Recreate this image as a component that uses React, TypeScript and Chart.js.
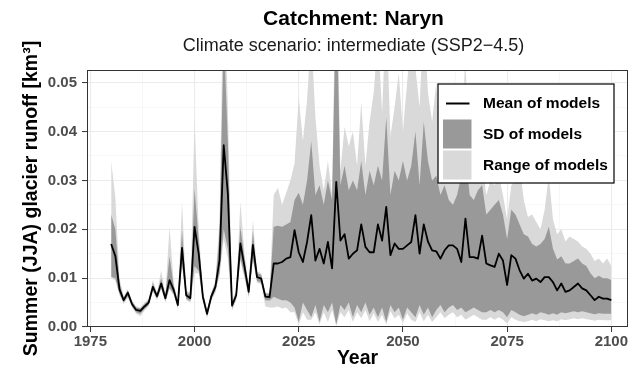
import React, { useEffect, useRef } from 'react';
import { Chart, registerables } from 'chart.js';

Chart.register(...registerables);

const FIRST_YEAR = 1980;
const LAST_YEAR = 2100;
const years: number[] = Array.from({ length: LAST_YEAR - FIRST_YEAR + 1 }, (_, i) => FIRST_YEAR + i);

const titleText = 'Catchment: Naryn';
const subtitleText = 'Climate scenario: intermediate (SSP2\u22124.5)';
const yTitle = 'Summer (JJA) glacier runoff [km\u00B3]';
const xTitle = 'Year';
const legendLabels = ['Mean of models', 'SD of models', 'Range of models'];

const xTickValues = [1975, 1987.5, 2000, 2012.5, 2025, 2037.5, 2050, 2062.5, 2075, 2087.5, 2100];
const xTickLabels = ['1975', '', '2000', '', '2025', '', '2050', '', '2075', '', '2100'];
const yTickValues = [0, 0.005, 0.01, 0.015, 0.02, 0.025, 0.03, 0.035, 0.04, 0.045, 0.05];
const yTickLabels = ['0.00', '', '0.01', '', '0.02', '', '0.03', '', '0.04', '', '0.05'];

// 1980 ... 2100
const meanOfModels = [
  0.0170, 0.0145, 0.0077, 0.0055, 0.0070, 0.0047, 0.0035, 0.0033, 0.0042, 0.0050,
  0.0082, 0.0063, 0.0089, 0.0059, 0.0096, 0.0076, 0.0045, 0.0162, 0.0065, 0.0059,
  0.0205, 0.0150, 0.0062, 0.0027, 0.0062, 0.0082, 0.0137, 0.0372, 0.0273, 0.0044,
  0.0065, 0.0171, 0.0123, 0.0072, 0.0168, 0.0102, 0.0099, 0.0062, 0.0061, 0.0130,
  0.0130, 0.0133, 0.0140, 0.0143, 0.0198, 0.0153, 0.0133, 0.0174, 0.0229, 0.0136,
  0.0160, 0.0130, 0.0174, 0.0120, 0.0297, 0.0177, 0.0190, 0.0140, 0.0150, 0.0157,
  0.0210, 0.0164, 0.0153, 0.0153, 0.0210, 0.0177, 0.0246, 0.0147, 0.0171, 0.0160,
  0.0160, 0.0167, 0.0174, 0.0229, 0.0150, 0.0210, 0.0175, 0.0157, 0.0155, 0.0140,
  0.0157, 0.0167, 0.0167, 0.0160, 0.0133, 0.0222, 0.0143, 0.0143, 0.0140, 0.0187,
  0.0130, 0.0126, 0.0123, 0.0150, 0.0136, 0.0086, 0.0147, 0.0140, 0.0116, 0.0099,
  0.0109, 0.0095, 0.0099, 0.0092, 0.0102, 0.0102, 0.0092, 0.0075, 0.0089, 0.0072,
  0.0075, 0.0082, 0.0089, 0.0079, 0.0075, 0.0065, 0.0055, 0.0062, 0.0058, 0.0058,
  0.0055,
];

const sdLow = [
  0.0103, 0.0100, 0.0068, 0.0050, 0.0063, 0.0042, 0.0030, 0.0027, 0.0037, 0.0045,
  0.0075, 0.0058, 0.0080, 0.0053, 0.0080, 0.0068, 0.0040, 0.0130, 0.0058, 0.0053,
  0.0125, 0.0115, 0.0055, 0.0022, 0.0056, 0.0074, 0.0110, 0.0200, 0.0160, 0.0038,
  0.0058, 0.0140, 0.0105, 0.0064, 0.0140, 0.0094, 0.0091, 0.0055, 0.0054, 0.0062,
  0.0058, 0.0055, 0.0055, 0.0050, 0.0040, 0.0010, 0.0050, 0.0035, 0.0020, 0.0045,
  0.0010, 0.0045, 0.0030, 0.0050, 0.0005, 0.0045, 0.0035, 0.0050, 0.0020, 0.0045,
  0.0030, 0.0050, 0.0025, 0.0040, 0.0020, 0.0040, 0.0010, 0.0045, 0.0030, 0.0040,
  0.0015, 0.0040, 0.0030, 0.0020, 0.0045, 0.0025, 0.0040, 0.0020, 0.0035, 0.0045,
  0.0030, 0.0040, 0.0045, 0.0035, 0.0040, 0.0030, 0.0035, 0.0040, 0.0035, 0.0030,
  0.0030, 0.0035, 0.0030, 0.0035, 0.0030, 0.0020, 0.0035, 0.0030, 0.0025, 0.0022,
  0.0025, 0.0028, 0.0025, 0.0030, 0.0028, 0.0025, 0.0028, 0.0025, 0.0030, 0.0028,
  0.0030, 0.0032, 0.0030, 0.0032, 0.0030, 0.0028, 0.0026, 0.0028, 0.0027, 0.0027,
  0.0027,
];

const sdHigh = [
  0.0230, 0.0200, 0.0090, 0.0060, 0.0075, 0.0052, 0.0040, 0.0038, 0.0047, 0.0055,
  0.0090, 0.0068, 0.0100, 0.0065, 0.0145, 0.0085, 0.0050, 0.0198, 0.0072, 0.0066,
  0.0283, 0.0180, 0.0070, 0.0032, 0.0068, 0.0090, 0.0190, 0.0600, 0.0380, 0.0050,
  0.0072, 0.0205, 0.0140, 0.0080, 0.0195, 0.0110, 0.0107, 0.0068, 0.0068, 0.0205,
  0.0207, 0.0205, 0.0210, 0.0215, 0.0260, 0.0275, 0.0250, 0.0300, 0.0380, 0.0270,
  0.0290, 0.0250, 0.0300, 0.0260, 0.0700, 0.0290, 0.0330, 0.0280, 0.0300, 0.0280,
  0.0340, 0.0270, 0.0320, 0.0290, 0.0330, 0.0300, 0.0430, 0.0270, 0.0320, 0.0300,
  0.0340, 0.0300, 0.0330, 0.0400, 0.0290, 0.0420, 0.0340, 0.0300, 0.0310, 0.0270,
  0.0290, 0.0260, 0.0250, 0.0270, 0.0310, 0.0360, 0.0270, 0.0260, 0.0280, 0.0290,
  0.0230, 0.0240, 0.0250, 0.0260, 0.0230, 0.0180, 0.0240, 0.0230, 0.0210, 0.0190,
  0.0185, 0.0170, 0.0165, 0.0170, 0.0180, 0.0205, 0.0160, 0.0138, 0.0145, 0.0130,
  0.0130, 0.0135, 0.0140, 0.0130, 0.0125, 0.0110, 0.0100, 0.0105, 0.0100, 0.0100,
  0.0096,
];

const rangeLow = [
  0.0100, 0.0095, 0.0065, 0.0047, 0.0060, 0.0040, 0.0027, 0.0022, 0.0034, 0.0043,
  0.0072, 0.0055, 0.0077, 0.0050, 0.0078, 0.0065, 0.0038, 0.0125, 0.0055, 0.0050,
  0.0110, 0.0110, 0.0052, 0.0018, 0.0053, 0.0070, 0.0105, 0.0180, 0.0140, 0.0034,
  0.0055, 0.0135, 0.0100, 0.0060, 0.0135, 0.0090, 0.0088, 0.0042, 0.0040, 0.0040,
  0.0042, 0.0038, 0.0040, 0.0030, 0.0030, 0.0005, 0.0030, 0.0015, 0.0015, 0.0030,
  0.0005, 0.0030, 0.0010, 0.0035, 0.0002, 0.0030, 0.0020, 0.0035, 0.0010, 0.0030,
  0.0018, 0.0035, 0.0012, 0.0028, 0.0010, 0.0025, 0.0005, 0.0032, 0.0018, 0.0025,
  0.0008, 0.0028, 0.0015, 0.0010, 0.0030, 0.0012, 0.0025, 0.0010, 0.0020, 0.0030,
  0.0018, 0.0025, 0.0030, 0.0020, 0.0025, 0.0015, 0.0020, 0.0025, 0.0020, 0.0015,
  0.0015, 0.0020, 0.0015, 0.0020, 0.0015, 0.0007, 0.0020, 0.0015, 0.0012, 0.0010,
  0.0012, 0.0015, 0.0012, 0.0016, 0.0014, 0.0012, 0.0014, 0.0012, 0.0016, 0.0014,
  0.0016, 0.0018, 0.0016, 0.0018, 0.0016, 0.0015, 0.0013, 0.0015, 0.0014, 0.0014,
  0.0014,
];

const rangeHigh = [
  0.0340, 0.0265, 0.0100, 0.0063, 0.0078, 0.0055, 0.0042, 0.0040, 0.0050, 0.0058,
  0.0096, 0.0070, 0.0116, 0.0068, 0.0205, 0.0090, 0.0053, 0.0255, 0.0075, 0.0070,
  0.0424, 0.0200, 0.0073, 0.0035, 0.0070, 0.0094, 0.0220, 0.0750, 0.0450, 0.0054,
  0.0075, 0.0256, 0.0150, 0.0084, 0.0219, 0.0114, 0.0110, 0.0070, 0.0070, 0.0270,
  0.0285, 0.0250, 0.0275, 0.0300, 0.0335, 0.0470, 0.0380, 0.0465, 0.0600, 0.0430,
  0.0330, 0.0280, 0.0340, 0.0270, 0.0800, 0.0320, 0.0410, 0.0370, 0.0400, 0.0330,
  0.0460, 0.0330, 0.0420, 0.0480, 0.0600, 0.0440, 0.0650, 0.0390, 0.0450, 0.0520,
  0.0400, 0.0500, 0.0600, 0.0530, 0.0450, 0.0650, 0.0480, 0.0420, 0.0500, 0.0380,
  0.0400, 0.0360, 0.0380, 0.0420, 0.0400, 0.0550, 0.0320, 0.0300, 0.0330, 0.0340,
  0.0270, 0.0300, 0.0290, 0.0310, 0.0270, 0.0220, 0.0290, 0.0300, 0.0330, 0.0260,
  0.0225, 0.0230, 0.0215, 0.0200, 0.0240, 0.0310, 0.0220, 0.0190, 0.0200, 0.0175,
  0.0185, 0.0180, 0.0175, 0.0165, 0.0160, 0.0150, 0.0135, 0.0140, 0.0130, 0.0140,
  0.0125,
];

const FONT = '"Liberation Sans", Arial, Helvetica, sans-serif';
const SD_COLOR = '#999999';
const RANGE_COLOR = '#D9D9D9';

const toPoints = (vals: number[]) => years.map((yr, i) => ({ x: yr, y: vals[i] }));
const isMajor = (v: number | undefined, step: number) =>
  v !== undefined && Math.abs(v / step - Math.round(v / step)) < 1e-6;

const decorPlugin = {
  id: 'decor',
  afterDraw(chart: any) {
    const { ctx, chartArea: a } = chart;
    ctx.save();
    // panel border
    ctx.strokeStyle = '#333333';
    ctx.lineWidth = 1;
    ctx.strokeRect(a.left + 0.5, a.top + 0.5, a.right - a.left - 1, a.bottom - a.top - 1);

    // titles
    const cx = (a.left + a.right) / 2 - 4;
    ctx.fillStyle = '#000000';
    ctx.textAlign = 'center';
    ctx.textBaseline = 'alphabetic';
    ctx.font = `bold 21px ${FONT}`;
    ctx.fillText(titleText, cx, 25);
    ctx.font = `18px ${FONT}`;
    ctx.fillStyle = '#1A1A1A';
    ctx.fillText(subtitleText, cx, 51);

    // legend
    const lr = a.right - 14;
    const lt = a.top + 14;
    const lw = 176;
    const lh = 99;
    const ll = lr - lw;
    ctx.fillStyle = '#FFFFFF';
    ctx.fillRect(ll, lt, lw, lh);
    ctx.strokeStyle = '#000000';
    ctx.lineWidth = 1.2;
    ctx.strokeRect(ll, lt, lw, lh);

    const keyX = ll + 5;
    const keyW = 28.5;
    const rowY = [lt + 5, lt + 35.5, lt + 66.5];
    const keyH = 29;
    // line key
    ctx.strokeStyle = '#000000';
    ctx.lineWidth = 2;
    ctx.beginPath();
    ctx.moveTo(keyX + 3, rowY[0] + keyH / 2);
    ctx.lineTo(keyX + keyW - 2, rowY[0] + keyH / 2);
    ctx.stroke();
    // sd key
    ctx.fillStyle = SD_COLOR;
    ctx.fillRect(keyX, rowY[1], keyW, keyH);
    // range key
    ctx.fillStyle = RANGE_COLOR;
    ctx.fillRect(keyX, rowY[2], keyW, keyH);

    ctx.fillStyle = '#000000';
    ctx.textAlign = 'left';
    ctx.textBaseline = 'middle';
    ctx.font = `bold 15.5px ${FONT}`;
    legendLabels.forEach((lab, i) => {
      ctx.fillText(lab, keyX + keyW + 11.5, rowY[i] + keyH / 2 + 0.5);
    });
    ctx.restore();
  },
};

export default function App() {
  const canvasRef = useRef<HTMLCanvasElement | null>(null);

  useEffect(() => {
    if (!canvasRef.current) return;
    const chart = new Chart(canvasRef.current, {
      type: 'line',
      data: {
        datasets: [
          {
            label: legendLabels[0],
            data: toPoints(meanOfModels),
            borderColor: '#000000',
            borderWidth: 1.8,
            pointRadius: 0,
            tension: 0,
            fill: false,
            borderJoinStyle: 'round',
          },
          {
            label: 'SD upper',
            data: toPoints(sdHigh),
            borderColor: 'rgba(0,0,0,0)',
            borderWidth: 0,
            backgroundColor: SD_COLOR,
            pointRadius: 0,
            tension: 0,
            fill: '+1',
          },
          {
            label: 'SD lower',
            data: toPoints(sdLow),
            borderColor: 'rgba(0,0,0,0)',
            borderWidth: 0,
            pointRadius: 0,
            tension: 0,
            fill: false,
          },
          {
            label: 'Range upper',
            data: toPoints(rangeHigh),
            borderColor: 'rgba(0,0,0,0)',
            borderWidth: 0,
            backgroundColor: RANGE_COLOR,
            pointRadius: 0,
            tension: 0,
            fill: '+1',
          },
          {
            label: 'Range lower',
            data: toPoints(rangeLow),
            borderColor: 'rgba(0,0,0,0)',
            borderWidth: 0,
            pointRadius: 0,
            tension: 0,
            fill: false,
          },
        ],
      },
      options: {
        animation: false,
        responsive: false,
        maintainAspectRatio: false,
        layout: { padding: { top: 70, right: 10, bottom: 0, left: 0 } },
        plugins: {
          legend: { display: false },
          tooltip: { enabled: false },
          title: { display: false },
        },
        scales: {
          x: {
            type: 'linear',
            min: 1974.2,
            max: 2104,
            afterBuildTicks: (s: any) => {
              s.ticks = xTickValues.map((v) => ({ value: v }));
            },
            afterFit: (s: any) => {
              s.height = 45;
            },
            border: { display: false },
            grid: {
              color: (c: any) => (isMajor(c.tick?.value, 25) ? '#EBEBEB' : '#F3F3F3'),
              lineWidth: (c: any) => (isMajor(c.tick?.value, 25) ? 1.1 : 0.7),
              tickColor: (c: any) => (isMajor(c.tick?.value, 25) ? '#333333' : 'rgba(0,0,0,0)'),
              tickLength: 5,
              tickWidth: 1,
            },
            ticks: {
              autoSkip: false,
              maxRotation: 0,
              padding: 1,
              color: '#4D4D4D',
              font: { family: FONT, size: 15, weight: 'bold' },
              callback: (v: any) => {
                const i = xTickValues.findIndex((t) => Math.abs(t - v) < 1e-6);
                return i >= 0 ? xTickLabels[i] : '';
              },
            },
            title: {
              display: true,
              text: xTitle,
              color: '#000000',
              font: { family: FONT, size: 19.5, weight: 'bold' },
              padding: { top: 0, bottom: 2 },
            },
          },
          y: {
            type: 'linear',
            min: 0,
            max: 0.0526,
            afterBuildTicks: (s: any) => {
              s.ticks = yTickValues.map((v) => ({ value: v }));
            },
            afterFit: (s: any) => {
              s.width = 87;
            },
            border: { display: false },
            grid: {
              color: (c: any) => (isMajor(c.tick?.value, 0.01) ? '#EBEBEB' : '#F3F3F3'),
              lineWidth: (c: any) => (isMajor(c.tick?.value, 0.01) ? 1.1 : 0.7),
              tickColor: (c: any) => (isMajor(c.tick?.value, 0.01) ? '#333333' : 'rgba(0,0,0,0)'),
              tickLength: 5,
              tickWidth: 1,
            },
            ticks: {
              autoSkip: false,
              padding: 5,
              color: '#4D4D4D',
              font: { family: FONT, size: 15, weight: 'bold' },
              callback: (v: any) => {
                const i = yTickValues.findIndex((t) => Math.abs(t - v) < 1e-9);
                return i >= 0 ? yTickLabels[i] : '';
              },
            },
            title: {
              display: true,
              text: yTitle,
              color: '#000000',
              font: { family: FONT, size: 19.5, weight: 'bold' },
              padding: { top: 20, bottom: 0 },
            },
          },
        },
      },
      plugins: [decorPlugin],
    } as any);
    return () => chart.destroy();
  }, []);

  return (
    <div style={{ position: 'fixed', left: 0, top: 0, width: 638, height: 372, background: '#FFFFFF' }}>
      <canvas ref={canvasRef} width={638} height={372} style={{ width: 638, height: 372, display: 'block' }} />
    </div>
  );
}
